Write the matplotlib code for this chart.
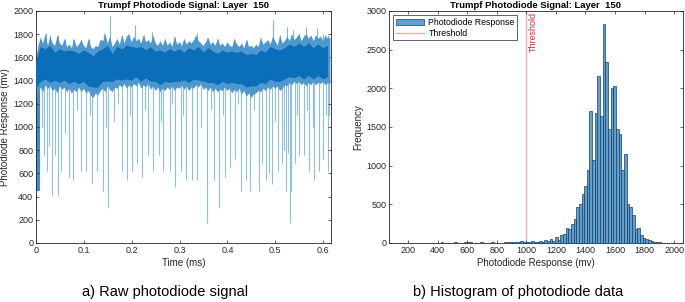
import numpy as np
import matplotlib
matplotlib.use("Agg")
import matplotlib.pyplot as plt
from matplotlib.lines import Line2D
from matplotlib.patches import Patch

plt.rcParams['font.family'] = ['Liberation Sans', 'DejaVu Sans']

# ---------------- Raw signal (envelopes) ----------------
# outer (light) envelope, sampled every 0.005 ms
outer_hi = [1580, 1700, 1770, 1720, 1800, 1700, 1780, 1720, 1700, 1790, 1720, 1700, 1760, 1690, 1710, 1680,
            1760, 1690, 1710, 1750, 1700, 1680, 1760, 1690, 1670, 1700, 1690, 1750, 1740, 1800, 1720, 1780,
            1690, 1720, 1760, 1710, 1790, 1720, 1780, 1800, 1730, 1780, 1740, 1760, 1720, 1790, 1730, 1750,
            1720, 1790, 1720, 1700, 1740, 1700, 1760, 1700, 1730, 1690, 1780, 1710, 1730, 1700, 1760, 1710,
            1740, 1720, 1750, 1790, 1740, 1720, 1700, 1730, 1770, 1710, 1730, 1700, 1760, 1700, 1720, 1690,
            1730, 1700, 1690, 1760, 1710, 1690, 1720, 1680, 1750, 1690, 1700, 1680, 1710, 1690, 1770, 1710,
            1730, 1750, 1710, 1780, 1740, 1700, 1790, 1720, 1740, 1780, 1740, 1800, 1750, 1770, 1800, 1740,
            1780, 1800, 1760, 1790, 1740, 1790, 1760, 1780, 1740, 1790, 1760, 1770]
outer_lo = [1200, 1300, 1340, 1300, 1360, 1330, 1350, 1310, 1330, 1290, 1350, 1320, 1340, 1300, 1330, 1290,
            1320, 1300, 1340, 1300, 1330, 1290, 1310, 1270, 1250, 1290, 1270, 1310, 1330, 1300, 1350, 1320,
            1300, 1340, 1330, 1360, 1340, 1370, 1330, 1360, 1340, 1370, 1350, 1380, 1330, 1360, 1340, 1370,
            1320, 1350, 1310, 1340, 1300, 1330, 1310, 1340, 1320, 1350, 1310, 1340, 1330, 1360, 1320, 1350,
            1310, 1340, 1330, 1360, 1340, 1370, 1320, 1340, 1310, 1340, 1300, 1330, 1300, 1320, 1310, 1340,
            1310, 1330, 1290, 1320, 1300, 1330, 1280, 1310, 1260, 1290, 1250, 1280, 1290, 1310, 1300, 1330,
            1310, 1340, 1320, 1350, 1330, 1350, 1310, 1330, 1360, 1350, 1380, 1360, 1390, 1370, 1390, 1360,
            1380, 1350, 1380, 1360, 1390, 1360, 1380, 1370, 1390, 1360, 1380, 1370]
# dark core, sampled every 0.01 ms
core_hi = [1560, 1690, 1670, 1700, 1640, 1670, 1650, 1660, 1650, 1630, 1660, 1640, 1610, 1650, 1670, 1700,
           1630, 1690, 1670, 1700, 1690, 1680, 1690, 1660, 1690, 1650, 1660, 1640, 1670, 1650, 1670, 1640,
           1680, 1660, 1690, 1640, 1680, 1650, 1630, 1660, 1640, 1650, 1640, 1650, 1620, 1630, 1620, 1660,
           1640, 1690, 1670, 1660, 1680, 1710, 1690, 1720, 1690, 1720, 1680, 1710, 1680, 1700]
core_lo = [1320, 1390, 1410, 1380, 1400, 1380, 1400, 1370, 1390, 1370, 1390, 1350, 1340, 1340, 1390, 1390,
           1390, 1410, 1400, 1410, 1400, 1430, 1390, 1420, 1390, 1390, 1360, 1390, 1380, 1390, 1390, 1400,
           1380, 1410, 1400, 1390, 1380, 1380, 1360, 1390, 1370, 1380, 1370, 1370, 1340, 1350, 1350, 1380,
           1370, 1410, 1390, 1390, 1410, 1430, 1420, 1440, 1410, 1440, 1410, 1440, 1410, 1430]

# dense start-up transient
start_t = [0.0005, 0.008]
start_lo = 450

dip_t = [0.001, 0.017, 0.022, 0.033, 0.040, 0.045, 0.052, 0.068, 0.077, 0.094, 0.105, 0.116,
         0.127, 0.139, 0.151, 0.179, 0.190, 0.200, 0.210, 0.221, 0.233, 0.244, 0.256, 0.266, 0.279, 0.291,
         0.302, 0.314, 0.325, 0.336, 0.357, 0.371, 0.383, 0.395, 0.406, 0.416, 0.428, 0.438, 0.447, 0.465,
         0.472, 0.480, 0.486, 0.493, 0.505, 0.514, 0.523, 0.530, 0.533, 0.541, 0.550, 0.560, 0.571, 0.581,
         0.592, 0.599, 0.609,
         0.012, 0.028, 0.061, 0.085, 0.112, 0.147, 0.162, 0.172, 0.196, 0.228, 0.262, 0.285, 0.308, 0.345,
         0.365, 0.390, 0.422, 0.455, 0.500, 0.518, 0.527, 0.545, 0.566, 0.578, 0.605, 0.613]
dip_v = [250, 760, 620, 410, 760, 410, 620, 570, 540, 620, 620, 510,
         620, 450, 300, 620, 540, 620, 690, 570, 760, 620, 760, 620, 620, 480,
         620, 540, 540, 540, 170, 540, 300, 570, 650, 720, 450, 540, 450, 450,
         690, 540, 600, 510, 620, 690, 450, 170, 450, 690, 760, 760, 620, 540,
         620, 720, 620,
         1000, 840, 950, 1150, 1100, 1000, 1050, 1200, 1100, 1150, 1050, 1200, 1100, 1000,
         1150, 1100, 1200, 1150, 1050, 800, 780, 1100, 1150, 1000, 1100, 1100]

peak_t = [0.021, 0.030, 0.045, 0.060, 0.078, 0.095, 0.110, 0.135, 0.142, 0.155, 0.180, 0.195, 0.207,
          0.225, 0.242, 0.270, 0.290, 0.310, 0.336, 0.357, 0.380, 0.413, 0.440, 0.470, 0.495, 0.509,
          0.524, 0.537, 0.550, 0.564, 0.587, 0.600, 0.610]
peak_v = [1810, 1790, 1790, 1760, 1760, 1750, 1760, 1750, 1810, 1960, 1790, 1800, 1880,
          1790, 1820, 1760, 1780, 1760, 1810, 1770, 1760, 1760, 1750, 1770, 1920, 1790,
          1860, 1840, 1800, 1860, 1850, 1800, 1790]

# ---------------- Histogram ----------------
bin_start = 167
bin_width = 18
counts = [3, 2, 0, 1, 2, 0, 1, 2, 1, 0, 2, 1, 3, 2,
          14, 4, 2, 3, 5, 16, 6, 4, 3, 8, 18, 10, 3, 2,
          5, 9, 6, 4, 3, 7, 5, 4, 6, 5, 9, 12, 8, 7, 10, 13, 22, 12,
          10, 14, 20, 15, 13, 24, 18, 35, 22, 56, 25,
          78, 43, 99, 112, 199, 186, 242, 315, 466, 500, 640, 740, 950,
          1712, 1075, 1685, 2160, 1640, 2830, 2340, 1470, 2010, 2030, 1480, 1410,
          940, 1156, 500, 470, 358, 186, 199, 100, 70, 50, 35, 25, 18, 12, 8, 5, 3, 2]
threshold = 1000

title = 'Trumpf Photodiode Signal: Layer  150'

# ---------------- Figure ----------------
fig = plt.figure(figsize=(6.85, 3.02), dpi=100)
axc = '#262626'
tfs = 6.5

def style(ax):
    for s in ax.spines.values():
        s.set_color(axc)
        s.set_linewidth(0.6)
    ax.tick_params(direction='in', length=2.5, width=0.5, colors=axc, labelsize=tfs,
                   top=True, right=True, pad=2)

ax1 = fig.add_axes([36/685, 59/302, 295/685, 232/302])
t_o_hi = [0.005 * i for i in range(len(outer_hi))]
t_o_lo = [0.005 * i for i in range(len(outer_lo))]
t_c_hi = [0.01 * i for i in range(len(core_hi))]
t_c_lo = [0.01 * i for i in range(len(core_lo))]
ax1.vlines(dip_t, dip_v, 1500, color='#8DBFE2', lw=0.8, zorder=1)
ax1.vlines(peak_t, 1600, peak_v, color='#7FB5DD', lw=0.8, zorder=1)
ax1.fill_between(start_t, start_lo, 1450, color='#3C8BCB', lw=0, zorder=1.5)
ax1.fill(np.concatenate([t_o_hi, t_o_lo[::-1]]), np.concatenate([outer_hi, outer_lo[::-1]]),
         color='#4F97CF', lw=0, zorder=2)
ax1.fill(np.concatenate([t_c_hi, t_c_lo[::-1]]), np.concatenate([core_hi, core_lo[::-1]]),
         color='#0B6EB8', lw=0, zorder=3)
ax1.set_xlim(0, 0.6162)
ax1.set_ylim(0, 2000)
ax1.set_xticks([0, 0.1, 0.2, 0.3, 0.4, 0.5, 0.6])
ax1.set_xticklabels(['0', '0.1', '0.2', '0.3', '0.4', '0.5', '0.6'])
ax1.set_yticks(range(0, 2001, 200))
style(ax1)
ax1.set_xlabel('Time (ms)', fontsize=7, color=axc, labelpad=2.5)
ax1.set_ylabel('Photodiode Response (mv)', fontsize=7, color=axc, labelpad=2)
ax1.set_title(title, fontsize=6.8, fontweight='bold', pad=2, color='black')

ax2 = fig.add_axes([389/685, 59/302, 294/685, 232/302])
edges = [bin_start + bin_width * k for k in range(len(counts))]
ax2.bar(edges, counts, width=bin_width, align='edge', color='#5DA0D2', edgecolor='#1d3f5c',
        linewidth=0.5, zorder=2)
ax2.axvline(threshold, color='#F4ABAB', lw=1.0, zorder=1)
ax2.text(threshold + 15, 2990, 'Threshold', rotation=90, color='#E0282E', fontsize=6.5,
         ha='left', va='top')
ax2.set_xlim(70, 2060)
ax2.set_ylim(0, 3000)
ax2.set_xticks(range(200, 2001, 200))
ax2.set_yticks(range(0, 3001, 500))
style(ax2)
ax2.set_xlabel('Photodiode Response (mv)', fontsize=7, color=axc, labelpad=2.5)
ax2.set_ylabel('Frequency', fontsize=7, color=axc, labelpad=2)
ax2.set_title(title, fontsize=6.8, fontweight='bold', pad=2, color='black')
handles = [Patch(facecolor='#5DA0D2', edgecolor='#1d3f5c', linewidth=0.5),
           Line2D([0], [0], color='#F4ABAB', lw=1.0)]
leg = ax2.legend(handles, ['Photodiode Response', 'Threshold'], loc='upper left', fontsize=6.3,
                 fancybox=False, edgecolor=axc, framealpha=1, borderpad=0.3, labelspacing=0.2,
                 handlelength=3.2, handletextpad=0.5, borderaxespad=0.5)
leg.get_frame().set_linewidth(0.5)

fig.text(165.5/685, 1 - 292/302, 'a) Raw photodiode signal', fontsize=10.5, ha='center', va='center')
fig.text(518.5/685, 1 - 292/302, 'b) Histogram of photodiode data', fontsize=10.5, ha='center', va='center')

fig.savefig('out.png', dpi=100)
